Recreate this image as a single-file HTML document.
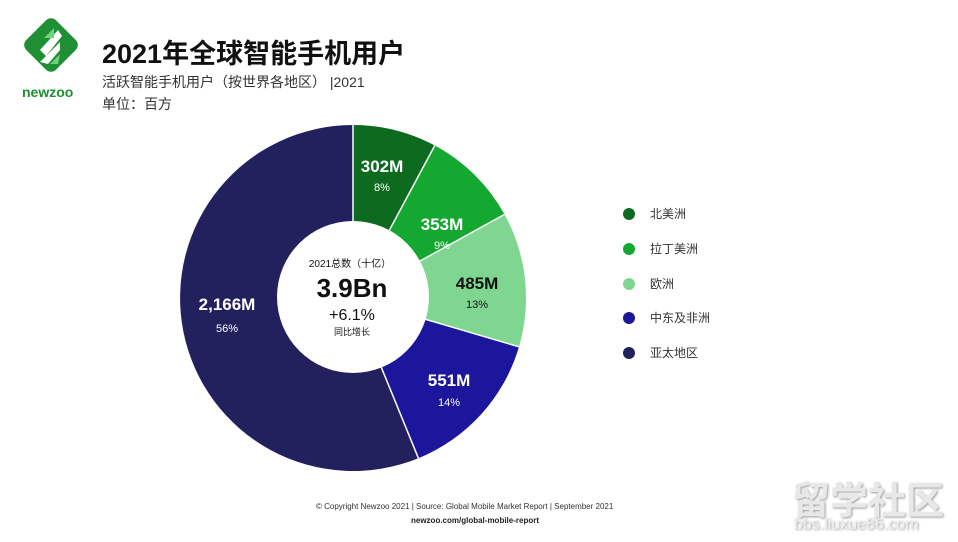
<!DOCTYPE html>
<html><head><meta charset="utf-8"><style>
body{margin:0;width:958px;height:542px;background:#fff;font-family:"Liberation Sans","Noto Sans CJK SC",sans-serif;position:relative;overflow:hidden;color:#111}
.a{position:absolute;white-space:nowrap}
</style></head><body>
<svg class="a" style="left:20px;top:16px" width="62" height="66" viewBox="0 0 62 66">
<rect x="10" y="8" width="42" height="42" rx="7" transform="rotate(45 31 29)" fill="#1e8f32"/>
<path d="M20 34 L38 14 L42 20 L26 40Z M20 46 L40 26 L40 34 L28 48Z" fill="#fff"/>
<path d="M24 22 L34 12 L34 22Z M30 48 L40 38 L38 48Z" fill="#6fd07f"/>
</svg>
<div class="a" style="left:22px;top:84px;font-size:14px;font-weight:bold;color:#1e8f32">newzoo</div>
<div class="a" style="left:102px;top:32px;font-size:27px;font-weight:bold;color:#111">2021年全球智能手机用户</div>
<div class="a" style="left:102px;top:72px;font-size:14px;color:#333">活跃智能手机用户（按世界各地区） |2021</div>
<div class="a" style="left:102px;top:94px;font-size:14px;color:#333">单位：百方</div>
<svg class="a" style="left:0;top:0" width="958" height="542">
<path d="M353 298 L353 125 A173 173 0 0 1 434.8 145.5Z" fill="#0d6b1f"/>
<path d="M353 298 L434.8 145.5 A173 173 0 0 1 504.5 214.4Z" fill="#14a830"/>
<path d="M353 298 L504.5 214.4 A173 173 0 0 1 519 346.8Z" fill="#7fd690"/>
<path d="M353 298 L519 346.8 A173 173 0 0 1 418.4 458.2Z" fill="#1b169c"/>
<path d="M353 298 L418.4 458.2 A173 173 0 1 1 353 125Z" fill="#22215e"/>
<g stroke="#fff" stroke-width="1.5"><line x1="353" y1="298" x2="353" y2="125"/><line x1="353" y1="298" x2="434.8" y2="145.5"/><line x1="353" y1="298" x2="504.5" y2="214.4"/><line x1="353" y1="298" x2="519" y2="346.8"/><line x1="353" y1="298" x2="418.4" y2="458.2"/></g>
<circle cx="353" cy="297" r="76" fill="#fff"/>
<g fill="#fff" font-family="Liberation Sans,sans-serif" text-anchor="middle">
<text x="382" y="172" font-size="17" font-weight="bold">302M</text><text x="382" y="191" font-size="11">8%</text>
<text x="442" y="230" font-size="17" font-weight="bold">353M</text><text x="442" y="249" font-size="11">9%</text>
</g>
<g fill="#111" text-anchor="middle"><text x="477" y="289" font-size="17" font-weight="bold">485M</text><text x="477" y="308" font-size="11">13%</text></g>
<g fill="#fff" text-anchor="middle">
<text x="449" y="386" font-size="17" font-weight="bold">551M</text><text x="449" y="406" font-size="11">14%</text>
<text x="227" y="310" font-size="17" font-weight="bold">2,166M</text><text x="227" y="332" font-size="11">56%</text>
</g>
<g fill="#111" text-anchor="middle" font-family="Liberation Sans,Noto Sans CJK SC,sans-serif">
<text x="350" y="267" font-size="10">2021总数（十亿）</text>
<text x="352" y="297" font-size="26" font-weight="bold">3.9Bn</text>
<text x="352" y="320" font-size="16">+6.1%</text>
<text x="352" y="335" font-size="9">同比增长</text>
</g>
<circle cx="629" cy="214" r="6" fill="#0d6b1f"/><circle cx="629" cy="249" r="6" fill="#14a830"/><circle cx="629" cy="284" r="6" fill="#7fd690"/><circle cx="629" cy="318" r="6" fill="#1b169c"/><circle cx="629" cy="353" r="6" fill="#22215e"/>
<g fill="#333" font-size="12" font-family="Liberation Sans,Noto Sans CJK SC,sans-serif">
<text x="650" y="218">北美洲</text><text x="650" y="253">拉丁美洲</text><text x="650" y="288">欧洲</text><text x="650" y="322">中东及非洲</text><text x="650" y="357">亚太地区</text>
</g>
</svg>
<div class="a" style="left:316px;top:502px;font-size:8px;color:#333">© Copyright Newzoo 2021 | Source: Global Mobile Market Report | September 2021</div>
<div class="a" style="left:411px;top:516px;font-size:8px;font-weight:bold;color:#222">newzoo.com/global-mobile-report</div>
<div class="a" style="left:792px;top:470px;font-size:38px;font-weight:bold;color:#e8e8e8;text-shadow:1px 1px 2px #999">留学社区</div>
<div class="a" style="left:794px;top:516px;font-size:16px;color:#eee;text-shadow:1px 1px 2px #999">bbs.liuxue86.com</div>
</body></html>
